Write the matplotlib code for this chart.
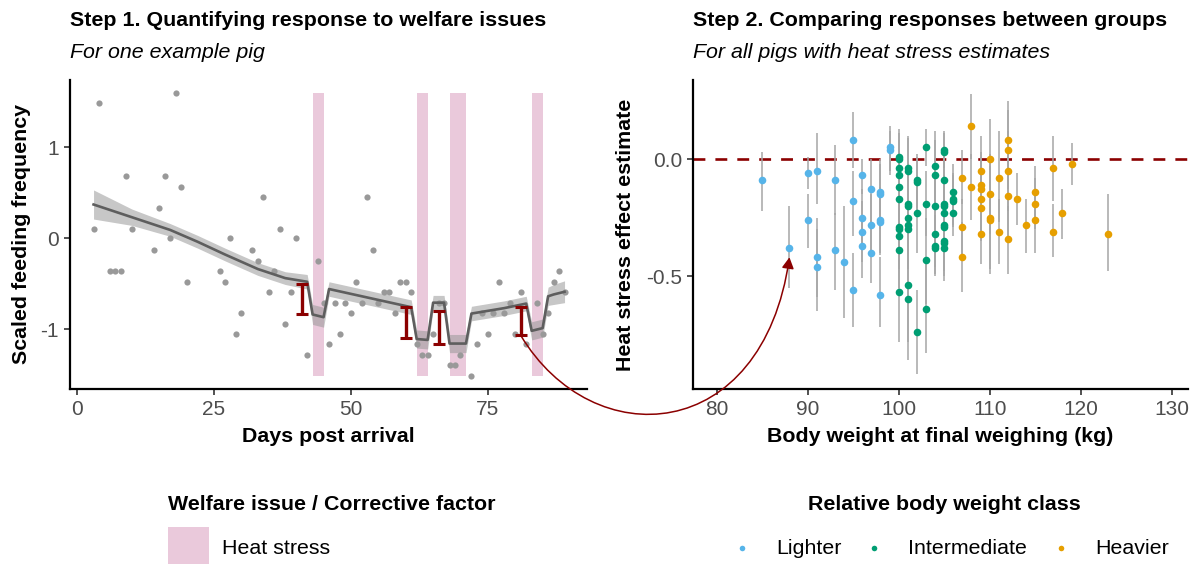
import numpy as np
import matplotlib.pyplot as plt
from matplotlib.patches import Rectangle, FancyArrowPatch
from matplotlib.path import Path

plt.rcParams['font.family'] = ['Liberation Sans', 'DejaVu Sans']
plt.rcParams['axes.unicode_minus'] = False

# --- step 1: daily feeding frequency of one pig ---
days = [3, 4, 6, 7, 8, 9, 10, 14, 15, 16, 17, 18, 19, 20, 26, 27, 28, 29, 30, 32,
        33, 34, 35, 36, 37, 38, 39, 40, 42, 44, 45, 46, 47, 48, 49, 50, 51, 52, 53,
        54, 55, 56, 57, 58, 59, 60, 61, 62, 63, 64, 65, 66, 67, 68, 69, 70, 72, 73,
        74, 75, 76, 77, 78, 79, 80, 81, 82, 84, 85, 86, 87, 88, 89]
feed = [0.10, 1.49, -0.36, -0.36, -0.36, 0.68, 0.10, -0.13, 0.33, 0.68, 0.00, 1.60,
        0.56, -0.48, -0.36, -0.48, 0.00, -1.05, -0.82, -0.13, -0.25, 0.45, -0.59,
        -0.36, 0.10, -0.94, -0.59, 0.00, -1.29, -0.25, -0.71, -1.17, -0.71, -1.05,
        -0.71, -0.82, -0.48, -0.71, 0.45, -0.13, -0.71, -0.59, -0.59, -0.82, -0.48,
        -0.48, -0.59, -1.17, -1.29, -1.29, -1.05, -0.71, -0.71, -1.40, -1.40, -1.29,
        -1.52, -1.17, -0.82, -1.05, -0.82, -0.48, -0.82, -0.71, -1.05, -0.59, -1.17,
        -0.71, -1.05, -0.82, -0.48, -0.36, -0.59]

# model fit with heat stress term
fit_day = [3, 10, 17, 22, 27, 33, 38, 42, 43, 45, 46, 61, 62, 64, 65, 67, 68, 71,
           72, 75, 78, 82, 83, 85, 86, 87, 89]
fit_val = [0.37, 0.23, 0.09, -0.04, -0.18, -0.34, -0.44, -0.48, -0.84, -0.87, -0.56,
           -0.76, -1.11, -1.12, -0.71, -0.71, -1.16, -1.16, -0.83, -0.80, -0.77,
           -0.72, -1.02, -0.99, -0.64, -0.62, -0.59]
fit_se = [0.16, 0.09, 0.07, 0.07, 0.07, 0.07, 0.07, 0.08, 0.11, 0.11, 0.08, 0.08,
          0.10, 0.10, 0.08, 0.08, 0.10, 0.10, 0.08, 0.08, 0.08, 0.08, 0.10, 0.10,
          0.10, 0.11, 0.12]

heat_start = [43, 62, 68, 83]
heat_end = [45, 64, 71, 85]

# estimated drop on each heat stress event
drop_day = [41, 60, 66, 81]
drop_lo = [-0.83, -1.10, -1.16, -1.07]
drop_hi = [-0.51, -0.76, -0.80, -0.76]

# --- step 2: heat stress effect per pig ---
light_w = [85, 88, 90, 90, 91, 91, 91, 93, 93, 94, 95, 95, 95, 96, 96, 96, 96, 97, 97,
           97, 98, 98, 98, 98, 98, 99, 99]
light_est = [-0.09, -0.38, -0.06, -0.26, -0.05, -0.42, -0.46, -0.09, -0.39, -0.44, 0.08,
             -0.18, -0.56, -0.07, -0.25, -0.31, -0.37, -0.13, -0.28, -0.40, -0.14,
             -0.15, -0.26, -0.27, -0.58, 0.05, 0.04]
light_lo = [-0.22, -0.55, -0.13, -0.38, -0.19, -0.59, -0.65, -0.24, -0.56, -0.68, -0.04,
            -0.33, -0.72, -0.15, -0.38, -0.44, -0.51, -0.27, -0.42, -0.53, -0.28,
            -0.30, -0.40, -0.41, -0.72, -0.05, -0.07]
light_hi = [0.03, -0.20, 0.01, -0.15, 0.11, -0.25, -0.30, 0.06, -0.23, -0.20, 0.20,
            -0.05, -0.40, 0.00, -0.13, -0.18, -0.24, 0.00, -0.15, -0.26, 0.00, -0.02,
            -0.12, -0.13, -0.42, 0.14, 0.12]

mid_w = [100] * 11 + [101] * 9 + [102] * 4 + [103] * 4 + [104] * 6 + [105] * 11 + [106] * 4
mid_est = [0.01, 0.00, -0.04, -0.07, -0.12, -0.17, -0.29, -0.30, -0.33, -0.39, -0.57,
           -0.04, -0.05, -0.19, -0.20, -0.25, -0.28, -0.30, -0.54, -0.60,
           -0.09, -0.10, -0.23, -0.74,
           0.05, -0.19, -0.43, -0.64,
           -0.03, -0.07, -0.20, -0.32, -0.37, -0.38,
           0.04, 0.03, -0.09, -0.19, -0.20, -0.23, -0.28, -0.29, -0.35, -0.36, -0.38,
           -0.14, -0.17, -0.18, -0.23]
mid_lo = [-0.11, -0.12, -0.16, -0.20, -0.25, -0.30, -0.43, -0.44, -0.47, -0.55, -0.78,
          -0.18, -0.19, -0.35, -0.36, -0.42, -0.45, -0.47, -0.78, -0.86,
          -0.21, -0.22, -0.40, -0.92,
          -0.03, -0.33, -0.62, -0.83,
          -0.18, -0.21, -0.34, -0.46, -0.49, -0.50,
          -0.04, -0.06, -0.21, -0.32, -0.33, -0.36, -0.41, -0.42, -0.48, -0.50, -0.52,
          -0.26, -0.28, -0.29, -0.33]
mid_hi = [0.13, 0.11, 0.08, 0.05, 0.01, -0.04, -0.14, -0.15, -0.18, -0.23, -0.36,
          0.10, 0.09, -0.03, -0.04, -0.08, -0.11, -0.13, -0.30, -0.36,
          0.02, 0.01, -0.07, -0.56,
          0.13, -0.05, -0.25, -0.45,
          0.12, 0.08, -0.06, -0.18, -0.24, -0.25,
          0.12, 0.11, 0.03, -0.06, -0.07, -0.10, -0.14, -0.15, -0.21, -0.22, -0.24,
          -0.02, -0.06, -0.07, -0.12]

heavy_w = [107, 107, 107, 108, 108, 109, 109, 109, 109, 109, 109, 110, 110, 110, 110,
           111, 111, 112, 112, 112, 112, 112, 113, 114, 115, 115, 115, 117, 117, 118,
           119, 123]
heavy_est = [-0.08, -0.29, -0.42, 0.14, -0.12, -0.05, -0.11, -0.13, -0.17, -0.21, -0.32,
             0.00, -0.15, -0.25, -0.26, -0.08, -0.31, 0.08, 0.04, -0.05, -0.16, -0.34,
             -0.17, -0.28, -0.14, -0.19, -0.26, -0.04, -0.31, -0.23, -0.02, -0.32]
heavy_lo = [-0.19, -0.41, -0.57, 0.00, -0.26, -0.19, -0.25, -0.27, -0.31, -0.35, -0.45,
            -0.17, -0.32, -0.47, -0.49, -0.27, -0.45, -0.09, -0.13, -0.22, -0.33, -0.49,
            -0.28, -0.40, -0.25, -0.30, -0.40, -0.18, -0.42, -0.34, -0.11, -0.48]
heavy_hi = [0.04, -0.17, -0.27, 0.28, 0.02, 0.10, 0.03, 0.01, -0.03, -0.07, -0.18,
            0.17, 0.02, -0.03, -0.04, 0.12, -0.17, 0.25, 0.21, 0.12, 0.01, -0.20,
            -0.06, -0.17, -0.03, -0.08, -0.13, 0.10, -0.19, -0.13, 0.07, -0.15]

groups = ['Lighter', 'Intermediate', 'Heavier']
group_colors = ['#56B4E9', '#009E73', '#E69F00']
heat_color = '#CC79A7'
dark_red = '#8B0000'

W, H = 1193, 564
fig = plt.figure(figsize=(W / 100, H / 100), dpi=100)


def fx(x):
    return x / W


def fy(y):
    return 1 - y / H


ax1 = fig.add_axes([fx(70), fy(389), 517 / W, 309 / H])
ax2 = fig.add_axes([fx(693), fy(389), 495 / W, 309 / H])

for ax in (ax1, ax2):
    ax.spines['top'].set_visible(False)
    ax.spines['right'].set_visible(False)
    ax.spines['left'].set_linewidth(1.6)
    ax.spines['bottom'].set_linewidth(1.6)
    ax.tick_params(length=4, width=1.2, color='#333333', labelsize=15,
                   labelcolor='#4D4D4D', pad=4)

# left panel
feed_arr = np.array(feed)
for s, e in zip(heat_start, heat_end):
    ax1.bar(s, feed_arr.max() - feed_arr.min(), width=e - s, bottom=feed_arr.min(),
            align='edge', color=heat_color, alpha=0.4, lw=0, zorder=1)
ax1.scatter(days, feed, s=20, color='#999999', lw=0, zorder=2)
fv = np.array(fit_val)
se = np.array(fit_se)
ax1.fill_between(fit_day, fv - se, fv + se, color='#999999', alpha=0.55, lw=0, zorder=3)
ax1.plot(fit_day, fit_val, color='#5E5E5E', lw=1.9, zorder=4)
lo = np.array(drop_lo)
hi = np.array(drop_hi)
ax1.errorbar(drop_day, (lo + hi) / 2, yerr=(hi - lo) / 2, fmt='none', ecolor=dark_red,
             elinewidth=2.4, capsize=4.5, capthick=2.2, zorder=5)

ax1.set_xlim(-1.3, 93.1)
ax1.set_ylim(-1.66, 1.74)
ax1.set_xticks([0, 25, 50, 75])
ax1.set_yticks([-1, 0, 1])
ax1.set_xlabel('Days post arrival', fontsize=15.4, fontweight='bold')
ax1.set_ylabel('Scaled feeding frequency', fontsize=15.4, fontweight='bold')
ax1.xaxis.set_label_coords(0.5, -0.155)
ax1.xaxis.label.set_va('center')
ax1.yaxis.set_label_coords(-0.093, 0.5)
ax1.yaxis.label.set_va('center')

# right panel
ax2.axhline(0, color=dark_red, lw=1.9, dashes=(4.5, 3.8), zorder=1)
series = [(light_w, light_est, light_lo, light_hi),
          (mid_w, mid_est, mid_lo, mid_hi),
          (heavy_w, heavy_est, heavy_lo, heavy_hi)]
for (w, est, l, h), c in zip(series, group_colors):
    ax2.vlines(w, l, h, color='#A6A6A6', lw=1.1, zorder=2)
for (w, est, l, h), c in zip(series, group_colors):
    ax2.scatter(w, est, s=30, color=c, lw=0, zorder=3)

ax2.set_xlim(77.4, 131.8)
ax2.set_ylim(-0.983, 0.338)
ax2.set_xticks([80, 90, 100, 110, 120, 130])
ax2.set_yticks([-0.5, 0.0])
ax2.set_yticklabels(['-0.5', '0.0'])
ax2.set_xlabel('Body weight at final weighing (kg)', fontsize=15.4, fontweight='bold')
ax2.set_ylabel('Heat stress effect estimate', fontsize=15.4, fontweight='bold')
ax2.xaxis.set_label_coords(0.5, -0.155)
ax2.xaxis.label.set_va('center')
ax2.yaxis.set_label_coords(-0.137, 0.5)
ax2.yaxis.label.set_va('center')

# titles
fig.text(fx(70), fy(20), 'Step 1. Quantifying response to welfare issues',
         fontsize=15.4, fontweight='bold', va='center')
fig.text(fx(70), fy(52), 'For one example pig', fontsize=15.4, style='italic', va='center')
fig.text(fx(693), fy(20), 'Step 2. Comparing responses between groups',
         fontsize=15.4, fontweight='bold', va='center')
fig.text(fx(693), fy(52), 'For all pigs with heat stress estimates', fontsize=15.4,
         style='italic', va='center')

# curved arrow from the last drop to its pig in the right panel
p0 = ax1.transData.transform((drop_day[-1], drop_lo[-1]))
p3 = ax2.transData.transform((light_w[1], light_est[1] - 0.04))
p1 = p0 + np.array([72, -120])
p2 = p3 + np.array([-27, -188])
verts = fig.transFigure.inverted().transform(np.array([p0, p1, p2, p3]))
arrow = FancyArrowPatch(path=Path(verts, [Path.MOVETO, Path.CURVE4, Path.CURVE4, Path.CURVE4]),
                        transform=fig.transFigure, arrowstyle='-|>,head_length=0.55,head_width=0.3',
                        mutation_scale=12, color=dark_red, lw=1.1)
fig.add_artist(arrow)

# legends
fig.text(fx(168), fy(505), 'Welfare issue / Corrective factor', fontsize=15.4,
         fontweight='bold', va='center')
fig.patches.append(Rectangle((fx(168), fy(568)), 41 / W, 41 / H, transform=fig.transFigure,
                             facecolor=heat_color, alpha=0.4, lw=0))
fig.text(fx(222), fy(548), 'Heat stress', fontsize=15.4, va='center')

fig.text(fx(808), fy(505), 'Relative body weight class', fontsize=15.4,
         fontweight='bold', va='center')
for name, c, dx, tx in zip(groups, group_colors, [742, 874, 1061], [776, 908, 1095]):
    fig.add_artist(plt.Line2D([fx(dx)], [fy(548)], marker='o', ms=4, color=c, mew=0,
                              transform=fig.transFigure))
    fig.text(fx(tx), fy(548), name, fontsize=15.4, va='center')

fig.savefig('out.png', dpi=100)
